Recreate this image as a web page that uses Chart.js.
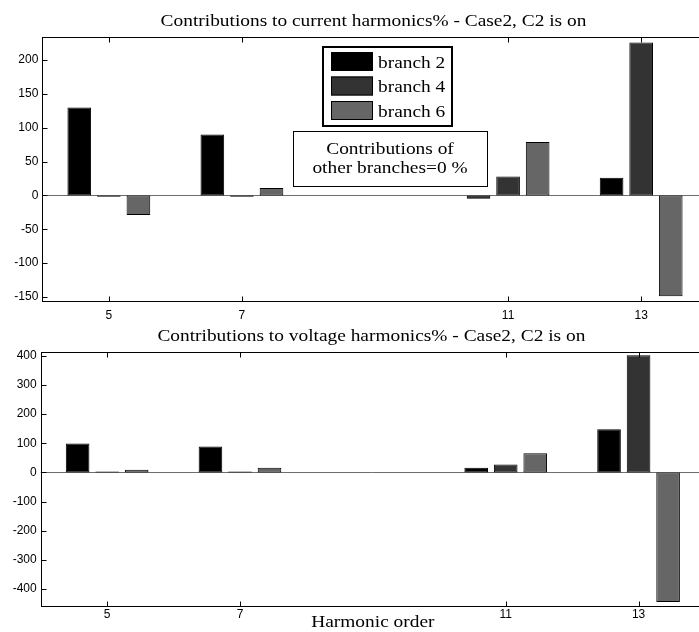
<!DOCTYPE html>
<html>
<head>
<meta charset="utf-8">
<script src="https://cdn.jsdelivr.net/npm/chart.js@4.4.0/dist/chart.umd.min.js"></script>
<style>
  html, body { margin: 0; padding: 0; background: #fff; overflow: hidden; width: 699px; height: 632px; }
  .panel { position: absolute; left: 0; width: 720px; }
  #top { top: 0; height: 320px; }
  #bot { top: 320px; height: 312px; }
  canvas { display: block; }
</style>
</head>
<body>
<div class="panel" id="top"><canvas id="c1" width="720" height="320"></canvas></div>
<div class="panel" id="bot"><canvas id="c2" width="720" height="312"></canvas></div>
<script>
// Harmonic orders on the x axis
const harmonicOrders = [5, 7, 11, 13];
const seriesNames = ['branch 2', 'branch 4', 'branch 6'];

// Contributions to current harmonics (%)
const currentBranch2 = [130, 90, -5, 26];
const currentBranch4 = [-2, -2, 28, 226];
const currentBranch6 = [-29, 11, 79, -149];

// Contributions to voltage harmonics (%)
const voltageBranch2 = [99, 89, 16, 148];
const voltageBranch4 = [3, 3, 27, 402];
const voltageBranch6 = [9, 16, 66, -444];

// Axis ticks
const xTicks = [5, 7, 11, 13];
const currentTicks = [-150, -100, -50, 0, 50, 100, 150, 200];
const voltageTicks = [-400, -300, -200, -100, 0, 100, 200, 300, 400];

const seriesColors = ['#000000', '#333333', '#666666'];
const SERIF = '"Liberation Serif", "Times New Roman", serif';
const SANS = '"Liberation Sans", Arial, sans-serif';
const TEXT_FONT = '17px ' + SERIF;
const TEXT_STRETCH = 1.14;

// Serif text, slightly widened horizontally
function drawText(ctx, s, x, y, align, baseline) {
  ctx.save();
  ctx.translate(x, y);
  ctx.scale(TEXT_STRETCH, 1);
  ctx.font = TEXT_FONT;
  ctx.textAlign = align;
  ctx.textBaseline = baseline || 'alphabetic';
  ctx.fillStyle = '#000';
  ctx.fillText(s, 0, 0);
  ctx.restore();
}

// Axes box, inward ticks, zero baseline, title, legend, note and x label
const framePlugin = {
  id: 'frame',
  beforeDatasetsDraw(chart) {
    const { ctx, chartArea: a, scales } = chart;
    const y0 = Math.round(scales.y.getPixelForValue(0)) + 0.5;
    ctx.save();
    ctx.strokeStyle = '#6e6e6e';
    ctx.lineWidth = 1;
    ctx.beginPath();
    ctx.moveTo(a.left, y0);
    ctx.lineTo(a.right, y0);
    ctx.stroke();
    ctx.restore();
  },
  afterDraw(chart, args, opts) {
    const { ctx, chartArea: a, scales } = chart;
    const L = Math.round(a.left) + 0.5, R = Math.round(a.right) + 0.5;
    const T = Math.round(a.top) + 0.5, B = Math.round(a.bottom) + 0.5;
    const tl = 5;
    ctx.save();
    ctx.strokeStyle = '#000';
    ctx.lineWidth = 1;
    ctx.strokeRect(L, T, R - L, B - T);
    ctx.beginPath();
    scales.x.ticks.forEach(t => {
      const px = Math.round(scales.x.getPixelForValue(t.value)) + 0.5;
      ctx.moveTo(px, B); ctx.lineTo(px, B - tl);
      ctx.moveTo(px, T); ctx.lineTo(px, T + tl);
    });
    scales.y.ticks.forEach(t => {
      const py = Math.round(scales.y.getPixelForValue(t.value)) + 0.5;
      ctx.moveTo(L, py); ctx.lineTo(L + tl, py);
      ctx.moveTo(R, py); ctx.lineTo(R - tl, py);
    });
    ctx.stroke();

    const cx = (a.left + a.right) / 2;
    drawText(ctx, opts.title, cx - 1.5, a.top - 11, 'center');

    if (opts.xlabel) {
      drawText(ctx, opts.xlabel, cx, opts.xlabelY, 'center');
    }

    // Legend
    if (opts.legend) {
      const lg = opts.legend;
      ctx.fillStyle = '#fff';
      ctx.fillRect(lg.x, lg.y, lg.w, lg.h);
      ctx.lineWidth = 2;
      ctx.strokeStyle = '#000';
      ctx.strokeRect(lg.x, lg.y, lg.w, lg.h);
      ctx.lineWidth = 1;
      chart.data.datasets.forEach((ds, i) => {
        const sy = lg.y + 5 + i * lg.row;
        ctx.fillStyle = ds.backgroundColor;
        ctx.fillRect(lg.x + 8, sy, 42, 19);
        ctx.strokeRect(lg.x + 8.5, sy + 0.5, 41, 18);
        drawText(ctx, ds.label, lg.x + 55, sy + 15.5, 'left');
      });
    }

    // Note box
    if (opts.note) {
      const n = opts.note;
      ctx.fillStyle = '#fff';
      ctx.fillRect(n.x, n.y, n.w, n.h);
      ctx.strokeStyle = '#000';
      ctx.lineWidth = 1;
      ctx.strokeRect(n.x + 0.5, n.y + 0.5, n.w, n.h);
      n.lines.forEach((s, i) => drawText(ctx, s, n.x + n.w / 2, n.y + 23 + i * 19, 'center'));
    }
    ctx.restore();
  }
};

function makeDatasets(series) {
  return series.map((vals, k) => ({
    label: seriesNames[k],
    data: harmonicOrders.map((h, i) => ({ x: h, y: vals[i] })),
    backgroundColor: seriesColors[k],
    borderColor: '#000',
    borderWidth: 1,
    borderSkipped: false,
    categoryPercentage: 2 / 3,
    barPercentage: 0.8
  }));
}

function makeChart(canvasId, series, yTicks, yMin, yMax, geo, frameOpts) {
  return new Chart(document.getElementById(canvasId), {
    type: 'bar',
    data: { datasets: makeDatasets(series) },
    plugins: [framePlugin],
    options: {
      responsive: false,
      animation: false,
      devicePixelRatio: 1,
      layout: { padding: { top: geo.top, right: geo.right, bottom: 0, left: 0 } },
      plugins: {
        legend: { display: false },
        tooltip: { enabled: false },
        title: { display: false },
        frame: frameOpts
      },
      scales: {
        x: {
          type: 'linear',
          min: 4,
          max: 14,
          offset: false,
          grid: { display: false, drawTicks: false },
          border: { display: false },
          afterBuildTicks: s => { s.ticks = xTicks.map(v => ({ value: v })); },
          afterFit: s => { s.height = geo.xh; },
          ticks: { font: { family: SANS, size: 12 }, color: '#000', padding: geo.xpad, maxRotation: 0, autoSkip: false }
        },
        y: {
          min: yMin,
          max: yMax,
          grid: { display: false, drawTicks: false },
          border: { display: false },
          afterBuildTicks: s => { s.ticks = yTicks.map(v => ({ value: v })); },
          afterFit: s => { s.width = geo.left; },
          ticks: { font: { family: SANS, size: 12 }, color: '#000', padding: 4 }
        }
      }
    }
  });
}

makeChart('c1', [currentBranch2, currentBranch4, currentBranch6], currentTicks, -156, 234,
  { top: 37, right: 12.3, left: 42.3, xh: 19, xpad: 7 },
  {
    title: 'Contributions to current harmonics% - Case2, C2 is on',
    legend: { x: 323, y: 47, w: 129, h: 79, row: 24.5 },
    note: { x: 293, y: 131, w: 194, h: 55, lines: ['Contributions of', 'other branches=0 %'] }
  });

makeChart('c2', [voltageBranch2, voltageBranch4, voltageBranch6], voltageTicks, -457, 414,
  { top: 31.7, right: 15, left: 40.7, xh: 26.3, xpad: 2 },
  {
    title: 'Contributions to voltage harmonics% - Case2, C2 is on',
    xlabel: 'Harmonic order',
    xlabelY: 306.5
  });
</script>
</body>
</html>
